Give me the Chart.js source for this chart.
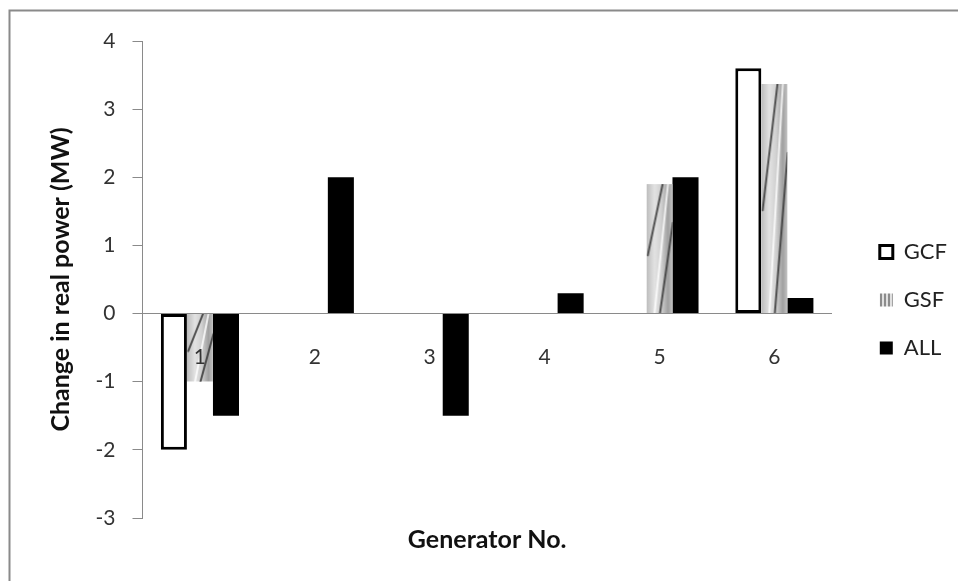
<!DOCTYPE html>
<html>
<head>
<meta charset="utf-8">
<script src="https://cdn.jsdelivr.net/npm/chart.js@4.4.1/dist/chart.umd.min.js"></script>
<style>
  html, body { margin: 0; padding: 0; background: #ffffff; }
  #wrap { width: 958px; height: 581px; position: relative; }
</style>
</head>
<body>
<div id="wrap"><canvas id="c" width="958" height="581"></canvas></div>
<script>
const categories = ['1', '2', '3', '4', '5', '6'];
const gcfValues = [-2, 0, 0, 0, 0, 3.6];
const gsfValues = [-1, 0, 0, 0, 1.9, 3.37];
const allValues = [-1.5, 2, -1.5, 0.3, 2, 0.23];
const seriesNames = ['GCF', 'GSF', 'ALL'];
const yTitle = 'Change in real power (MW)';
const xTitle = 'Generator No.';

const FONT = 'Lato, "Open Sans", sans-serif';
const CAT_PCT = 0.68;

function gsfFill(ctx) {
  const chart = ctx.chart;
  const xs = chart.scales.x, ys = chart.scales.y;
  if (ctx.type !== 'data' || !xs || !ys || !xs.width || ctx.raw === 0) return '#c8c8c8';
  const catW = xs.width / categories.length;
  const barW = catW * CAT_PCT / 3;
  const cx = xs.getPixelForValue(ctx.dataIndex);
  const left = cx - barW / 2;
  const yv = ys.getPixelForValue(ctx.raw), y0 = ys.getPixelForValue(0);
  const top = Math.min(yv, y0);
  const h = Math.max(2, Math.abs(yv - y0));
  const w = Math.max(2, Math.ceil(barW));
  const c = document.createElement('canvas');
  c.width = w; c.height = Math.ceil(h);
  const g = c.getContext('2d');
  const grad = g.createLinearGradient(0, 0, w, 0);
  grad.addColorStop(0, '#bcbcbc');
  grad.addColorStop(0.3, '#e2e2e2');
  grad.addColorStop(0.55, '#d0d0d0');
  grad.addColorStop(0.8, '#a0a0a0');
  grad.addColorStop(1, '#cacaca');
  g.fillStyle = grad;
  g.fillRect(0, 0, w, h);
  g.lineCap = 'round';
  g.strokeStyle = 'rgba(55,55,55,0.85)';
  g.lineWidth = 2;
  g.beginPath();
  g.moveTo(w * 0.05, h * 0.55);
  g.lineTo(w * 0.6, 0);
  g.stroke();
  g.beginPath();
  g.moveTo(w * 0.5, h);
  g.lineTo(w * 0.98, h * 0.3);
  g.stroke();
  g.strokeStyle = 'rgba(255,255,255,0.8)';
  g.lineWidth = 2;
  g.beginPath();
  g.moveTo(w * 0.3, h);
  g.lineTo(w * 0.8, 0);
  g.stroke();
  const p = chart.ctx.createPattern(c, 'no-repeat');
  p.setTransform(new DOMMatrix([1, 0, 0, 1, left, top]));
  return p;
}

function legendStripe(chartCtx) {
  const c = document.createElement('canvas');
  c.width = 4; c.height = 4;
  const g = c.getContext('2d');
  g.fillStyle = '#e0e0e0';
  g.fillRect(0, 0, 4, 4);
  g.fillStyle = '#8c8c8c';
  g.fillRect(0, 0, 2, 4);
  return chartCtx.createPattern(c, 'repeat');
}

const frame = {
  id: 'frame',
  beforeDraw(chart) {
    const g = chart.ctx;
    g.save();
    g.strokeStyle = '#8a8a8a';
    g.lineWidth = 2;
    g.beginPath();
    g.moveTo(9.5, 581);
    g.lineTo(9.5, 10.5);
    g.lineTo(958, 10.5);
    g.stroke();
    g.restore();
  }
};

new Chart(document.getElementById('c'), {
  type: 'bar',
  data: {
    labels: categories,
    datasets: [
      { label: seriesNames[0], data: gcfValues, backgroundColor: '#ffffff', borderColor: '#000000', borderWidth: 3, borderSkipped: false },
      { label: seriesNames[1], data: gsfValues, backgroundColor: gsfFill, borderWidth: 0 },
      { label: seriesNames[2], data: allValues, backgroundColor: '#000000', borderWidth: 0 }
    ]
  },
  options: {
    responsive: false,
    animation: false,
    devicePixelRatio: 1,
    datasets: { bar: { categoryPercentage: CAT_PCT, barPercentage: 1 } },
    layout: { padding: { top: 41, left: 10, right: 1, bottom: 22 } },
    plugins: {
      tooltip: { enabled: false },
      legend: {
        position: 'right',
        labels: {
          boxWidth: 13, boxHeight: 13, padding: 26,
          color: '#222', font: { family: FONT, size: 22 },
          generateLabels(chart) {
            const items = Chart.defaults.plugins.legend.labels.generateLabels(chart);
            items.forEach(it => {
              if (it.datasetIndex === 1) {
                it.fillStyle = legendStripe(chart.ctx);
                it.strokeStyle = 'rgba(0,0,0,0)';
                it.lineWidth = 0;
              }
            });
            return items;
          }
        }
      }
    },
    scales: {
      x: {
        type: 'category',
        position: { y: 0 },
        offset: true,
        grid: { display: true, drawOnChartArea: false, drawTicks: false },
        border: { display: true, color: '#8a8a8a', width: 1 },
        ticks: { color: '#333', font: { family: FONT, size: 21 }, padding: 31, maxRotation: 0, z: 1 },
        afterFit(s) { s.height = 0; }
      },
      x2: {
        type: 'category',
        axis: 'x',
        position: 'bottom',
        offset: true,
        grid: { display: false, drawTicks: false },
        border: { display: false },
        ticks: { display: false },
        title: { display: true, text: xTitle, color: '#111', font: { family: FONT, size: 25, weight: 'bold' }, padding: { top: 7, bottom: 4 } }
      },
      y: {
        min: -3, max: 4,
        position: 'left',
        ticks: { stepSize: 1, color: '#333', font: { family: FONT, size: 21 }, padding: 17 },
        grid: { display: true, drawOnChartArea: false, drawTicks: true, tickLength: 10, color: '#8a8a8a' },
        border: { display: true, color: '#8a8a8a', width: 1 },
        title: { display: true, text: yTitle, color: '#111', font: { family: FONT, size: 25, weight: 'bold' }, padding: { top: 36, bottom: 4 } },
        afterFit(s) { s.width = 132.5; }
      },
      yR: {
        type: 'linear',
        position: 'right',
        display: true,
        grid: { display: false, drawTicks: false },
        border: { display: false },
        ticks: { display: false },
        afterFit(s) { s.width = 22; }
      }
    }
  },
  plugins: [frame]
});
</script>
</body>
</html>
